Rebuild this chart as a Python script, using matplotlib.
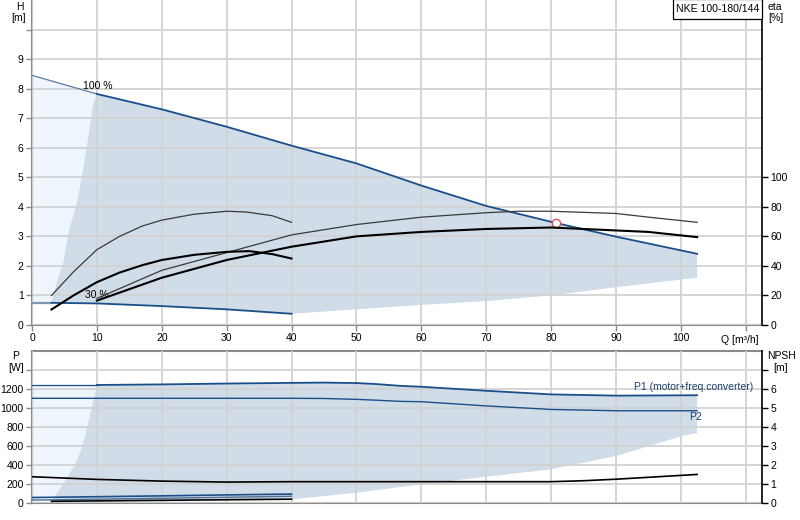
import numpy as np
import matplotlib
matplotlib.use("Agg")
import matplotlib.pyplot as plt
from matplotlib.patches import Rectangle

plt.rcParams['font.family'] = ['Liberation Sans', 'DejaVu Sans']
FS = 7.5

# ---------------- data (top: head / efficiency) ----------------
q_h100 = [0, 10, 20, 30, 40, 50, 60, 70, 80.8, 90, 102.5]
h_100 = [8.45, 7.82, 7.30, 6.71, 6.07, 5.47, 4.72, 4.03, 3.45, 2.99, 2.41]

q_h30 = [0, 3, 10, 20, 30, 40]
h_30 = [0.75, 0.75, 0.73, 0.64, 0.53, 0.38]

q_bound = [3, 3.9, 4.8, 5.7, 7.0, 7.9, 8.7, 9.45, 10]
h_bound = [0.75, 1.52, 2.09, 3.2, 4.2, 5.3, 6.4, 7.5, 7.82]

q_hlow = [40, 50, 60, 70, 80, 90, 102.5]
h_hlow = [0.38, 0.53, 0.68, 0.81, 1.0, 1.28, 1.6]

q_eta_a = [10, 20, 30, 40, 50, 60, 70, 75, 80, 90, 95, 102.5]
eta_a = [18, 37, 49, 61, 68, 73, 76, 77, 77, 75.5, 73, 69.5]
q_eta_b = [10, 20, 30, 40, 50, 60, 70, 80, 90, 95, 102.5]
eta_b = [16.5, 32, 44, 53, 60, 63, 65, 66, 64, 63, 59.5]
q_eta_c = [3, 6.4, 10, 13.5, 17, 20, 25, 30, 33, 37, 40]
eta_c = [20, 36, 51, 60, 67, 71, 75, 77, 76.5, 74, 69.5]
q_eta_d = [3, 6.4, 10, 13.5, 17, 20, 25, 30, 33.5, 37, 40]
eta_d = [10.5, 20, 29, 35.5, 40.5, 44, 47.5, 49.5, 50, 48, 45]

duty_q, duty_h = 80.8, 3.45

# ---------------- data (bottom: power / NPSH) ----------------
q_p = [0, 10, 20, 30, 40, 45, 50, 53, 56.7, 60, 70, 80, 90, 102.5]
p1_100 = [1240, 1240, 1246, 1255, 1262, 1265, 1260, 1250, 1231, 1221, 1179, 1141, 1128, 1132]
p2_100 = [1100, 1100, 1100, 1100, 1100, 1098, 1089, 1080, 1068, 1064, 1020, 983, 969, 969]

q_p30 = [0, 3, 10, 20, 30, 40]
p1_30 = [58, 60, 66, 75, 85, 94]
p2_30 = [31, 33, 40, 50, 60, 71]

q_npsh = [0, 10, 20, 30, 40, 50, 60, 70, 80, 85, 90, 102.5]
npsh_100 = [1.38, 1.24, 1.15, 1.10, 1.12, 1.12, 1.12, 1.12, 1.12, 1.17, 1.25, 1.5]
q_npsh30 = [3, 40]
npsh_30 = [0.09, 0.2]

q_pbound = [3, 4.0, 4.8, 6.6, 7.8, 8.5, 9.2, 10]
p_pbound = [20, 120, 200, 400, 600, 800, 1000, 1240]
q_plow = [40, 50, 60, 70, 80, 90, 100, 102.5]
p_plow = [38, 108, 196, 276, 354, 493, 700, 735]

x_ticks = [0, 10, 20, 30, 40, 50, 60, 70, 80, 90, 100, 110]
x_labels = ['0', '10', '20', '30', '40', '50', '60', '70', '80', '90', '100', '']

# ---------------- styles ----------------
BLUE = '#1b4f8a'
LIGHTLINE = '#7f97b3'
GRAY_FILL = '#d0dce7'
LIGHT_FILL = '#eef5fc'
GRID = '#d2d2d2'
SPINE = '#8a8a8a'

fig = plt.figure(figsize=(8, 5.2), dpi=100)
ax1 = fig.add_axes([32/800, (520-325)/520, 730/800, 325/520])
ax2 = fig.add_axes([32/800, (520-503)/520, 730/800, 152.3/520])
XMAX = 112.5


def style(ax, twin, top=True):
    ax.set_xlim(0, XMAX)
    ax.set_xticks(x_ticks)
    ax.grid(True, color=GRID, lw=1.3)
    ax.set_axisbelow(False)
    for s in ['left', 'bottom', 'top']:
        ax.spines[s].set_color(SPINE)
        ax.spines[s].set_linewidth(1.5)
    ax.spines['top'].set_visible(top)
    ax.spines['right'].set_visible(False)
    ax.tick_params(axis='both', direction='out', length=4, width=1, color=SPINE,
                   labelsize=FS, pad=2)
    twin.spines['right'].set_color('black')
    twin.spines['right'].set_linewidth(1.2)
    for s in ['left', 'bottom', 'top']:
        twin.spines[s].set_visible(False)
    twin.tick_params(axis='y', direction='out', length=4, width=1, color='black',
                     labelsize=FS, pad=2)


# ---------------- top chart ----------------
q100 = np.array(q_h100); h100 = np.array(h_100)
m = q100 >= 10
light_x = [0] + list(q100[~m]) + [10] + q_bound[::-1] + [0]
light_y = [h100[0]] + list(h100[~m]) + [h100[m][0]] + h_bound[::-1] + [h_30[0]]
ax1.fill(light_x, light_y, color=LIGHT_FILL, lw=0, zorder=1)

q30 = np.array(q_h30); h30 = np.array(h_30)
m30 = q30 >= 3
gx = q_bound + list(q100[m]) + [q100[-1]] + q_hlow[::-1] + list(q30[m30][::-1])
gy = h_bound + list(h100[m]) + [h_hlow[-1]] + h_hlow[::-1] + list(h30[m30][::-1])
ax1.fill(gx, gy, color=GRAY_FILL, lw=0, zorder=1)

ax1.plot(q100[q100 <= 10], h100[q100 <= 10], color='#5d7a9e', lw=0.9, zorder=3)
ax1.plot(q100[m], h100[m], color=BLUE, lw=1.3, zorder=3)
ax1.plot(q30[q30 <= 3], h30[q30 <= 3], color=LIGHTLINE, lw=1.6, zorder=3)
ax1.plot(q30[m30], h30[m30], color=BLUE, lw=1.3, zorder=3)
ax1.plot([duty_q], [duty_h], marker='o', ms=6, mfc='white', mec='#e05050', mew=1.0, zorder=5)

ax1.text(7.8, 8.1, '100 %', fontsize=FS, va='center', ha='left', zorder=6)
ax1.text(8.2, 1.0, '30 %', fontsize=FS, va='center', ha='left', zorder=6)

ax1.set_ylim(0, 11)
ax1.set_yticks(range(0, 11))
ax1.set_yticklabels([str(i) for i in range(10)] + [''])
ax1.set_xticklabels(x_labels)
ax1.text(109.1, -0.33, 'Q [m\u00b3/h]', fontsize=FS, ha='center', va='top')

ax1t = ax1.twinx()
ax1t.set_ylim(0, 220)
ax1t.set_yticks([0, 20, 40, 60, 80, 100])
ax1t.plot(q_eta_a, eta_a, color='#3a3a3a', lw=0.9, zorder=4)
ax1t.plot(q_eta_b, eta_b, color='black', lw=1.5, zorder=4)
ax1t.plot(q_eta_c, eta_c, color='#3a3a3a', lw=0.9, zorder=4)
ax1t.plot(q_eta_d, eta_d, color='black', lw=1.5, zorder=4)
style(ax1, ax1t, top=False)

# title box (figure pixel placement)
fig.patches.append(Rectangle((673/800, 1 - 19/520), 89/800, 20/520, transform=fig.transFigure,
                             facecolor='white', edgecolor='black', lw=0.9, zorder=10))
fig.text(717.5/800, 1 - 12/520, 'NKE 100-180/144', fontsize=7.6, ha='center',
         va='baseline', zorder=11)

# ---------------- bottom chart ----------------
qp = np.array(q_p); p1 = np.array(p1_100); p2 = np.array(p2_100)
mp = qp >= 10
lx = [0] + list(qp[~mp]) + [10] + q_pbound[::-1] + [0]
ly = [p1[0]] + list(p1[~mp]) + [p1[mp][0]] + p_pbound[::-1] + [p_pbound[0]]
ax2.fill(lx, ly, color=LIGHT_FILL, lw=0, zorder=1)
gx2 = q_pbound + list(qp[mp]) + [qp[-1]] + q_plow[::-1] + [q_pbound[0]]
gy2 = p_pbound + list(p1[mp]) + [p_plow[-1]] + p_plow[::-1] + [p_pbound[0]]
ax2.fill(gx2, gy2, color=GRAY_FILL, lw=0, zorder=1)

ax2.plot(qp[qp <= 10], p1[qp <= 10], color=BLUE, lw=0.9, zorder=3)
ax2.plot(qp[mp], p1[mp], color=BLUE, lw=1.3, zorder=3)
ax2.plot(qp, p2, color=BLUE, lw=1.0, zorder=3)
ax2.plot(q_p30, p1_30, color=BLUE, lw=1.2, zorder=3)
ax2.plot(q_p30, p2_30, color='#4f6f95', lw=1.0, zorder=3)

ax2.text(111.1, 1221, 'P1 (motor+freq.converter)', fontsize=FS, color='#1b3f6a',
         ha='right', va='center', zorder=6)
ax2.text(101.2, 906, 'P2', fontsize=FS, color='#1b3f6a', ha='left', va='center', zorder=6)

ax2.set_ylim(0, 1600)
ax2.set_yticks(range(0, 1600, 200))
ax2.set_yticklabels([str(v) for v in range(0, 1400, 200)] + [''])
ax2.set_xticklabels([])

ax2t = ax2.twinx()
ax2t.set_ylim(0, 8)
ax2t.set_yticks(range(0, 8))
ax2t.set_yticklabels([str(i) for i in range(7)] + [''])
ax2t.plot(q_npsh, npsh_100, color='black', lw=1.2, zorder=4)
ax2t.plot(q_npsh30, npsh_30, color='black', lw=1.2, zorder=4)
style(ax2, ax2t)
ax2.tick_params(axis='x', length=0)

# ---------------- axis titles ----------------
def ftext(px, py, s, ha='center'):
    fig.text(px/800, 1 - py/520, s, fontsize=FS, ha=ha, va='baseline')

ftext(20, 9.5, 'H'); ftext(19, 21, '[m]')
ftext(768, 9.5, 'eta', ha='left'); ftext(768, 21, '[%]', ha='left')
ftext(16, 359, 'P'); ftext(16, 371, '[W]')
ftext(767, 359, 'NPSH', ha='left'); ftext(773, 371, '[m]', ha='left')

fig.savefig('out.png', dpi=100)
